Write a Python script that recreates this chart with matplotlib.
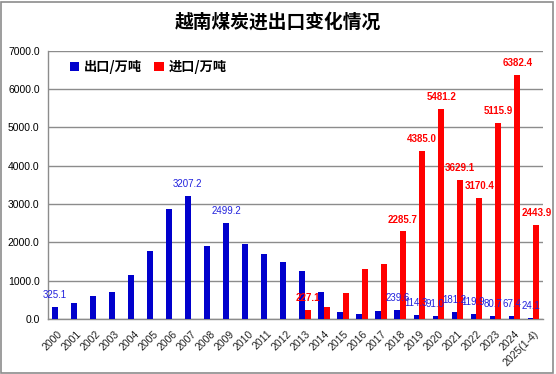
import numpy as np
import matplotlib
matplotlib.use("Agg")
import matplotlib.pyplot as plt
from matplotlib.patches import Rectangle

plt.rcParams['font.family'] = ['Liberation Sans', 'Noto Sans CJK SC', 'DejaVu Sans']

# data (万吨)
years = [str(y) for y in range(2000, 2025)] + ["2025(1-4)"]
exports = [325.1, 410, 590, 718, 1155, 1770, 2875, 3207.2, 1900, 2499.2,
           1960, 1695, 1490, 1258, 718, 180, 128, 205, 239.6, 114.3,
           91.0, 181.2, 119.9, 80.7, 67.4, 24.1]
imports = [0, 0, 0, 0, 0, 0, 0, 0, 0, 0,
           0, 0, 0, 227.1, 308, 667, 1308, 1436, 2285.7, 4385.0,
           5481.2, 3629.1, 3170.4, 5115.9, 6382.4, 2443.9]
export_labelled = [0, 7, 9, 18, 19, 20, 21, 22, 23, 24, 25]
import_labelled = [13, 18, 19, 20, 21, 22, 23, 24, 25]

blue = "#0000CC"
red = "#FF0000"
grid = "#8C8C8C"

fig = plt.figure(figsize=(5.56, 3.74), dpi=100)
fig.patches.append(Rectangle((0.002, 0.004), 0.992, 0.99, transform=fig.transFigure,
                             fill=False, edgecolor="#8C8C8C", linewidth=1.2))
ax = fig.add_axes([0.0863, 0.147, 0.8903, 0.717])

x = np.arange(len(years))
w = 0.3
ax.bar(x - w / 2, exports, width=w, color=blue, label="出口/万吨", zorder=3)
ax.bar(x + w / 2, imports, width=w, color=red, label="进口/万吨", zorder=3)

for i in export_labelled:
    ax.annotate(f"{exports[i]:.1f}", (x[i] - w / 2, exports[i]), xytext=(0, 5),
                textcoords="offset points", ha="center", va="bottom",
                fontsize=7, color="#2222DD", zorder=5)
for i in import_labelled:
    ax.annotate(f"{imports[i]:.1f}", (x[i] + w / 2, imports[i]), xytext=(0, 5),
                textcoords="offset points", ha="center", va="bottom",
                fontsize=7, color=red, fontweight="bold", zorder=5)

ax.set_xlim(-0.5, len(years) - 0.5)
ax.set_ylim(0, 7000)
ax.set_yticks(np.arange(0, 7001, 1000))
ax.set_yticklabels([f"{v:.1f}" for v in np.arange(0, 7001, 1000)], fontsize=7.5)
ax.set_xticks(x)
ax.set_xticklabels(years, rotation=45, ha="right", va="top", rotation_mode="anchor",
                   fontsize=7.5, color="#222222")
ax.tick_params(axis="both", length=0)
ax.tick_params(axis="y", pad=6)
ax.tick_params(axis="x", pad=7)

ax.grid(axis="y", color=grid, linewidth=1.0, zorder=0)
for s in ["top", "right"]:
    ax.spines[s].set_visible(False)
for s in ["left", "bottom"]:
    ax.spines[s].set_color(grid)
    ax.spines[s].set_linewidth(1.0)

ax.legend(loc="upper left", bbox_to_anchor=(0.02, 1.01), ncol=2, frameon=False,
          prop={"family": ["Noto Sans CJK SC"], "weight": "bold", "size": 9.5},
          handlelength=0.7, handleheight=0.7, handletextpad=0.4, columnspacing=0.9)

fig.text(0.5, 0.94, "越南煤炭进出口变化情况", ha="center", va="center",
         fontsize=13.5, fontweight="bold", family=["Noto Sans CJK SC"])

fig.savefig("out.png", dpi=100)
